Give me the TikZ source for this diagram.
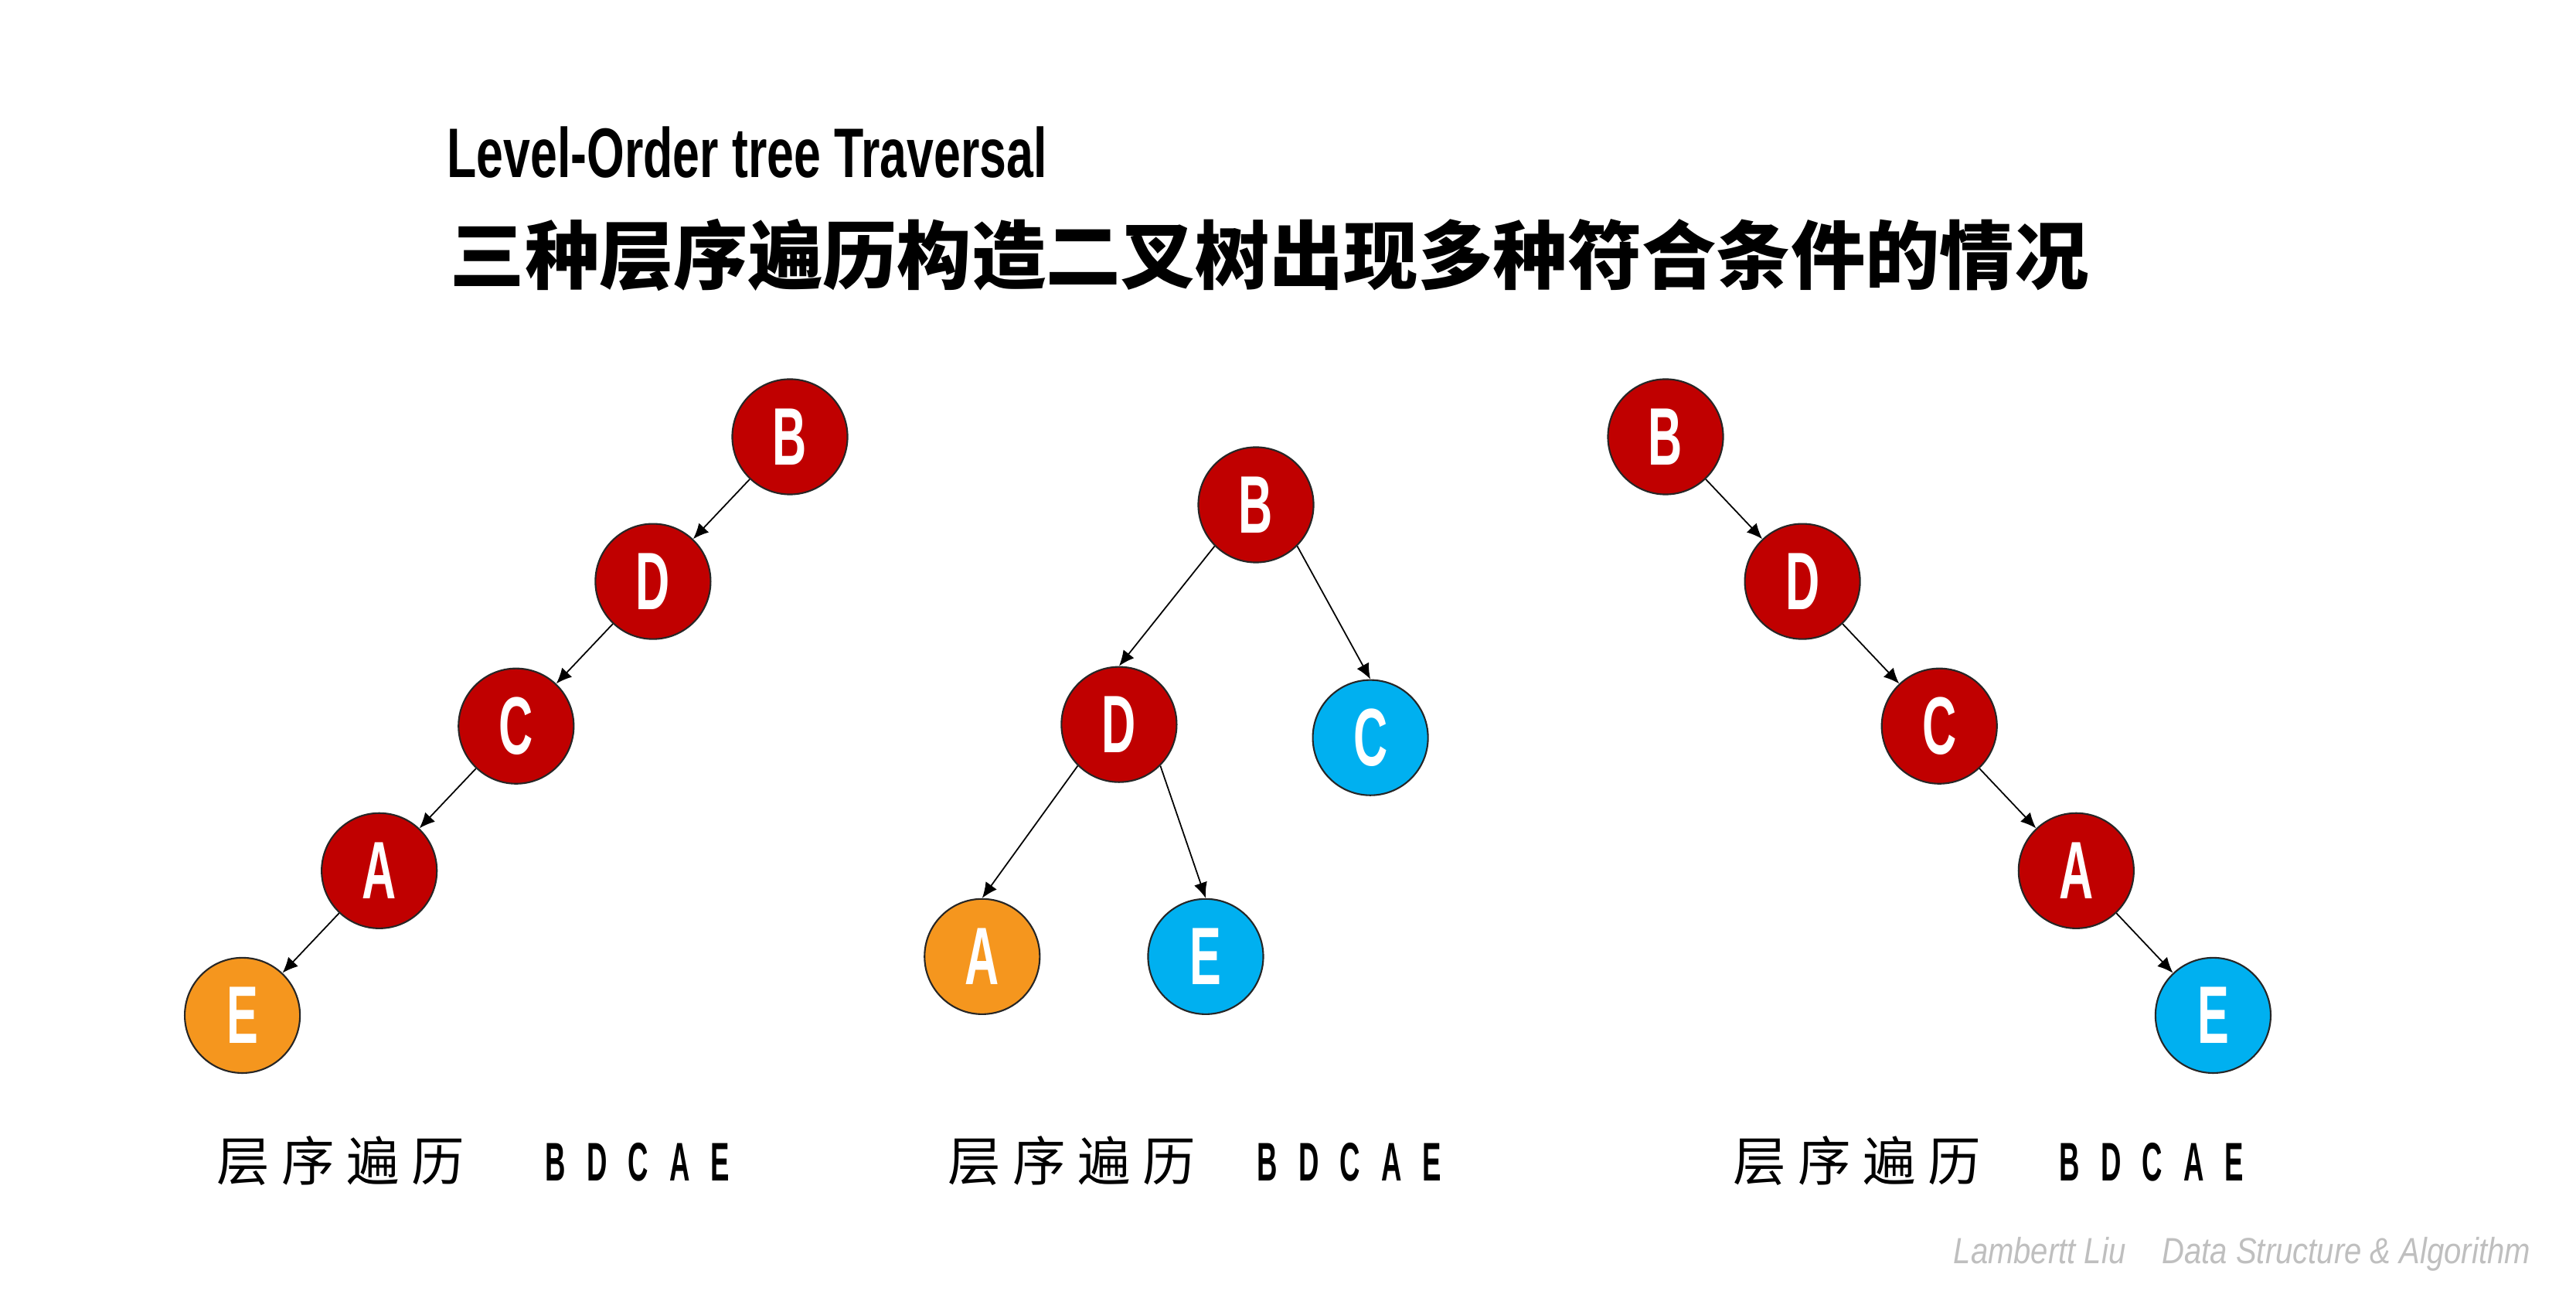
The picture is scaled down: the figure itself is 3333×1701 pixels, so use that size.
\documentclass[tikz,border=0pt]{standalone}
\usepackage{fontspec}
\usepackage{xcolor}
\usepackage{tikz}
\usetikzlibrary{arrows.meta,positioning}

\newfontfamily\cjkfont{Noto Sans CJK SC}
\newfontfamily\condfont[FakeStretch=0.58]{Liberation Sans}
\newfontfamily\titlefont[FakeStretch=0.69]{Liberation Sans}
\newfontfamily\seqfont[FakeStretch=0.52,LetterSpace=24]{Liberation Sans}
\newfontfamily\markfont[FakeStretch=0.85]{Liberation Sans}

\definecolor{nodered}{HTML}{C00000}
\definecolor{nodeorange}{HTML}{F5961E}
\definecolor{nodeblue}{HTML}{00B0F0}
\definecolor{rim}{HTML}{262626}

\begin{document}
\begin{tikzpicture}[
    x=0.01cm, y=-0.01cm,
    node distance=1.87cm and 1.77cm, on grid,
    tnode/.style={circle, draw=rim, line width=0.6pt, minimum size=1.49cm, inner sep=0pt, text=white,
        font=\condfont\bfseries\fontsize{30pt}{30pt}\selectfont},
    red node/.style={tnode, fill=nodered},
    orange node/.style={tnode, fill=nodeorange},
    blue node/.style={tnode, fill=nodeblue},
    arrow/.style={-{Latex[length=5.7pt, width=5pt]}, line width=0.5pt},
    label cn/.style={anchor=base west, inner sep=0pt, font=\cjkfont\fontsize{19.5pt}{22pt}\selectfont},
    label seq/.style={anchor=base west, inner sep=0pt, font=\seqfont\bfseries\fontsize{20pt}{22pt}\selectfont}
]
    \fill[white] (0,0) rectangle (3333,1701);
    \useasboundingbox (0,0) rectangle (3333,1701);

    % titles
    \node[anchor=base west, inner sep=0pt, font=\titlefont\bfseries\fontsize{25.8pt}{30pt}\selectfont] (title) at (578,230) {Level-Order tree Traversal};
    \node[anchor=base west, inner sep=0pt, font=\cjkfont\bfseries\fontsize{27.4pt}{32pt}\selectfont] (subtitle) at (582,367) {三种层序遍历构造二叉树出现多种符合条件的情况};

    % left tree
    \node[red node] (b1) at (1022,565) {B};
    \node[red node, below left=of b1] (d1) {D};
    \node[red node, below left=of d1] (c1) {C};
    \node[red node, below left=of c1] (a1) {A};
    \node[orange node, below left=of a1] (e1) {E};

    \draw[arrow] (b1) -- (d1);
    \draw[arrow] (d1) -- (c1);
    \draw[arrow] (c1) -- (a1);
    \draw[arrow] (a1) -- (e1);

    % middle tree
    \node[red node] (b2) at (1625,653) {B};
    \node[red node, below left=2.84cm and 1.77cm of b2] (d2) {D};
    \node[blue node, below right=3.01cm and 1.48cm of b2] (c2) {C};
    \node[orange node, below left=3cm and 1.77cm of d2] (a2) {A};
    \node[blue node, below right=3cm and 1.12cm of d2] (e2) {E};

    \draw[arrow] (b2.south west) -- (d2.north);
    \draw[arrow] (b2.south east) -- (c2.north);
    \draw[arrow] (d2.south west) -- (a2.north);
    \draw[arrow] (d2.south east) -- (e2.north);

    % right tree
    \node[red node] (b3) at (2155,565) {B};
    \node[red node, below right=of b3] (d3) {D};
    \node[red node, below right=of d3] (c3) {C};
    \node[red node, below right=of c3] (a3) {A};
    \node[blue node, below right=of a3] (e3) {E};

    \draw[arrow] (b3) -- (d3);
    \draw[arrow] (d3) -- (c3);
    \draw[arrow] (c3) -- (a3);
    \draw[arrow] (a3) -- (e3);

    % traversal labels
    \node[label cn] (lab1) at (280,1527) {层 序 遍 历};
    \node[label seq] (seq1) at (705,1527) {B D C A E};
    \node[label cn] (lab2) at (1226,1527) {层 序 遍 历};
    \node[label seq] (seq2) at (1626,1527) {B D C A E};
    \node[label cn] (lab3) at (2242,1527) {层 序 遍 历};
    \node[label seq] (seq3) at (2664,1527) {B D C A E};

    \node[anchor=base west, inner sep=0pt, text=black!25, font=\markfont\itshape\fontsize{13.4pt}{16pt}\selectfont] (sign) at (2527,1634) {Lambertt Liu\quad Data Structure \& Algorithm};
\end{tikzpicture}
\end{document}
